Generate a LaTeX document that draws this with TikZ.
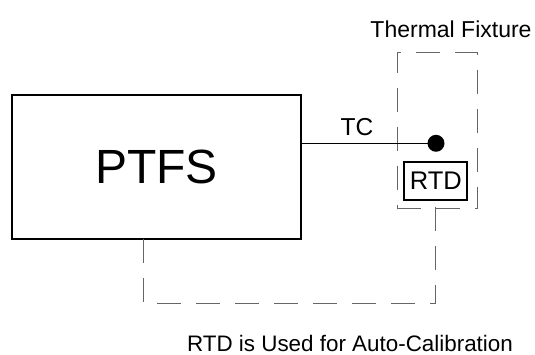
\documentclass[tikz,border=0pt]{standalone}
\usepackage{fontspec}
\setmainfont{Liberation Sans}
\begin{document}
\begin{tikzpicture}[x=1pt,y=-1pt,
  box/.style={draw=black,line width=1.5pt,inner sep=0pt,outer sep=0pt},
  guide/.style={draw=black!60,line width=1pt,dash pattern=on 24pt off 15pt},
  wire/.style={draw=black,line width=1.5pt},
  lbl/.style={inner sep=0pt,font=\fontsize{22.4}{26}\selectfont}]
\useasboundingbox (0,0) rectangle (535,355);
\node[box,minimum width=289pt,minimum height=144pt,font=\fontsize{48}{56}\selectfont] (ptfs) at (156.5,167) {PTFS};
\node[guide,rectangle,minimum width=80pt,minimum height=156pt,inner sep=0pt] (fixture) at (437,131) {};
\node[box,line width=2pt,minimum width=63pt,minimum height=38pt,font=\fontsize{25.5}{28}\selectfont] (rtd) at (435.8,181) {RTD};
\node[circle,fill=black,minimum size=17pt,inner sep=0pt] (dot) at (436,143.3) {};
\draw[wire] (ptfs.east |- dot) -- (dot.center);
\node[lbl,font=\fontsize{24.5}{28}\selectfont] (tc) at (357,127.5) {TC};
\coordinate (c1) at (143,303);
\draw[guide] (ptfs.south -| c1) -- (c1) -- (c1 -| rtd.south) -- (rtd.south);
\node[lbl,font=\fontsize{23}{26}\selectfont] (title) at (451,29) {Thermal Fixture};
\node[lbl] (caption) at (350,343) {RTD is Used for Auto-Calibration};
\end{tikzpicture}
\end{document}
